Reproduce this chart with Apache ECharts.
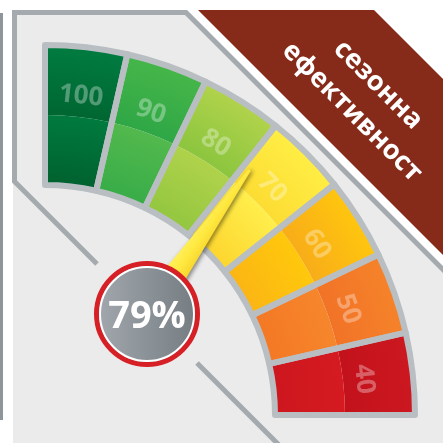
<!DOCTYPE html>
<html>
<head>
<meta charset="utf-8">
<script src="https://cdn.jsdelivr.net/npm/echarts@6/dist/echarts.min.js"></script>
<style>html,body{margin:0;padding:0;background:#fff;}#c{width:443px;height:443px;}</style>
</head>
<body>
<div id="c"></div>
<script>
// ---- data ----
const categories = ['100', '90', '80', '70', '60', '50', '40'];
const bandSpan = [10, 10, 10, 10, 10, 10, 10];
const gaugeValue = 79;
const scaleMin = 40;
const scaleMax = 110;
const titleLines = ['сезонна', 'ефективност'];
// colours per band: [outer-dark, outer-light, inner-dark, inner-light]
const bandColors = [
  ['#006632', '#007c40', '#00612f', '#007a3e'],
  ['#2fa746', '#46b649', '#38ac48', '#52b94d'],
  ['#8cc53f', '#b1d34b', '#93c63f', '#b0d24b'],
  ['#fcdc33', '#ffee45', '#fdd52e', '#ffee4c'],
  ['#f8ad19', '#ffc60e', '#fbb514', '#ffc80c'],
  ['#f27327', '#f5832a', '#f47825', '#f6862b'],
  ['#c3121c', '#cc1820', '#cd161e', '#d51b21']
];

const CX = 45, CY = 415, R_IN = 230, R_MID = 300, R_OUT = 370;
const FONT = 'Open Sans';
const filler = (scaleMax - scaleMin) * 3; // remaining 270° of the circle

function radial(c0, c1, r0, r1) {
  return {
    type: 'radial', x: CX, y: CY, r: R_OUT, global: true,
    colorStops: [{offset: r0 / R_OUT, color: c0}, {offset: r1 / R_OUT, color: c1}]
  };
}
const hidden = {value: filler, name: '', itemStyle: {color: 'rgba(0,0,0,0)', borderWidth: 0}, label: {show: false}};

const outerData = categories.map((c, i) => ({value: bandSpan[i], name: c,
  itemStyle: {color: radial(bandColors[i][0], bandColors[i][1], R_MID, R_OUT)}})).concat([hidden]);
const innerData = categories.map((c, i) => ({value: bandSpan[i], name: c,
  itemStyle: {color: radial(bandColors[i][2], bandColors[i][3], R_IN, R_MID)}})).concat([hidden]);
const borderData = categories.map((c, i) => ({value: bandSpan[i], name: c})).concat([hidden]);

const pieBase = {
  type: 'pie', center: [CX, CY], startAngle: 90, clockwise: true, silent: true,
  label: {show: false}, labelLine: {show: false}, emphasis: {disabled: true}, z: 1
};
const gaugeBase = {
  type: 'gauge', center: [147, 314], startAngle: 10, endAngle: 90, clockwise: false,
  min: scaleMin, max: scaleMax, silent: true,
  axisLine: {show: false}, splitLine: {show: false}, axisTick: {show: false}, axisLabel: {show: false},
  title: {show: false}
};

const chart = echarts.init(document.getElementById('c'), null, {renderer: 'canvas'});
chart.setOption({
  animation: false,
  backgroundColor: '#ffffff',
  graphic: [
    {type: 'rect', z: 0, shape: {x: 0, y: 13, width: 3, height: 407}, style: {fill: '#8e969b'}},
    {type: 'polygon', z: 0, shape: {points: [[13, 12], [186, 12], [443, 269], [443, 443], [13, 443]]}, style: {fill: '#ebebeb'}},
    {type: 'polyline', z: 0, shape: {points: [[97, 264], [14.5, 181.5], [14.5, 12.5], [186, 12.5], [446, 272.5]]},
      style: {stroke: '#a4aaae', lineWidth: 5, fill: null}},
    {type: 'line', z: 0, shape: {x1: 197, y1: 363, x2: 279, y2: 445}, style: {stroke: '#a4aaae', lineWidth: 5}},
    {type: 'polygon', z: 0, shape: {points: [[198, 10], [374, 10], [443, 79], [443, 255]]}, style: {fill: '#862a19'}},
    {type: 'text', z: 1, x: 378, y: 85, rotation: -Math.PI / 4,
      style: {text: titleLines[0], fill: '#ffffff', font: 'bold 27px "Open Sans"', textAlign: 'center', textVerticalAlign: 'middle'}},
    {type: 'text', z: 1, x: 352, y: 112, rotation: -Math.PI / 4,
      style: {text: titleLines[1], fill: '#ffffff', font: 'bold 27px "Open Sans"', textAlign: 'center', textVerticalAlign: 'middle'}},
    {type: 'circle', z: 10, shape: {cx: 147, cy: 314, r: 47}, style: {fill: null, stroke: '#ffffff', lineWidth: 2}}
  ],
  series: [
    Object.assign({}, pieBase, {radius: [R_MID, R_OUT], data: outerData}),
    Object.assign({}, pieBase, {radius: [R_IN, R_MID], data: innerData}),
    Object.assign({}, pieBase, {radius: [R_IN, R_OUT], data: borderData,
      itemStyle: {color: 'rgba(0,0,0,0)', borderColor: '#b9bec2', borderWidth: 6}}),
    Object.assign({}, pieBase, {radius: [R_MID, 336], data: borderData.map(d => Object.assign({}, d, {itemStyle: {color: 'rgba(0,0,0,0)', borderWidth: 0}})),
      label: {show: true, position: 'inside', rotate: 'tangential', formatter: '{b}',
        color: 'rgba(255,255,255,0.32)', fontFamily: FONT, fontWeight: 'bold', fontSize: 26}}),
    Object.assign({}, gaugeBase, {
      radius: 177, z: 3,
      pointer: {show: true, icon: 'path://M13.5,0 L16.5,0 L30,177 L0,177 Z', length: 177, width: 30,
        itemStyle: {
          color: {type: 'linear', x: 0, y: 0, x2: 1, y2: 0, colorStops: [{offset: 0, color: '#fff266'}, {offset: 0.5, color: '#ffe83f'}, {offset: 1, color: '#f4cf2a'}]},
          shadowBlur: 4, shadowColor: 'rgba(0,0,0,0.45)', shadowOffsetX: 2, shadowOffsetY: 1
        }},
      anchor: {show: true, showAbove: true, size: 101,
        itemStyle: {
          color: {type: 'linear', x: 0, y: 0, x2: 1, y2: 0, colorStops: [{offset: 0, color: '#a3a9ae'}, {offset: 1, color: '#737b81'}]},
          borderColor: '#d71f26', borderWidth: 5
        }},
      detail: {show: false},
      data: [{value: gaugeValue}]
    }),
    Object.assign({}, gaugeBase, {
      radius: 50, z: 12,
      pointer: {show: false}, anchor: {show: false},
      detail: {show: true, offsetCenter: [0, 3], formatter: '{value}%', color: '#ffffff',
        fontFamily: FONT, fontWeight: 'bold', fontSize: 38},
      data: [{value: gaugeValue}]
    })
  ]
});
</script>
</body>
</html>
